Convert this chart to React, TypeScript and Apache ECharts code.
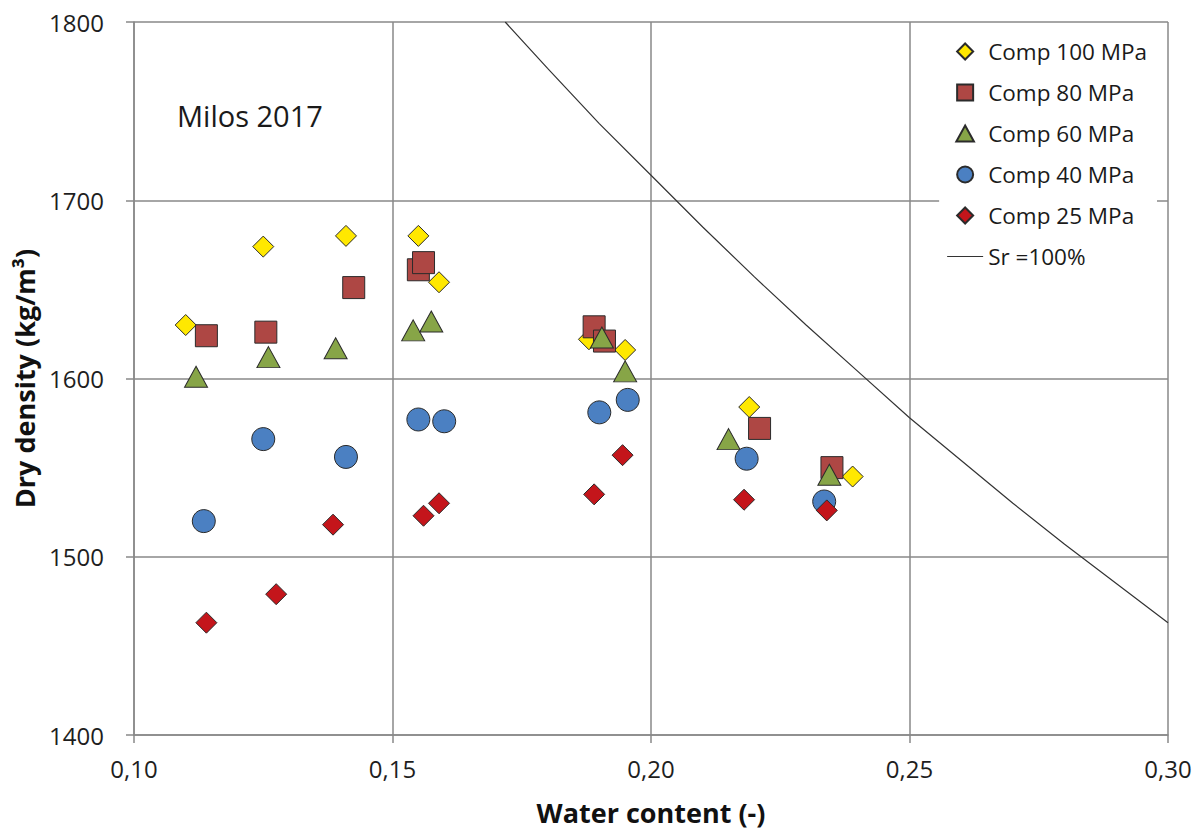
import { useEffect, useRef } from "react";
import * as echarts from "echarts";

const comp100X = [0.110, 0.125, 0.141, 0.155, 0.159, 0.188, 0.195, 0.219, 0.239];
const comp100Y = [1630, 1674, 1680, 1680, 1654, 1622, 1616, 1584, 1545];
const comp80X = [0.114, 0.1255, 0.1425, 0.155, 0.156, 0.189, 0.191, 0.221, 0.235];
const comp80Y = [1624, 1626, 1651, 1661, 1665, 1629, 1621, 1572, 1550];
const comp60X = [0.112, 0.126, 0.139, 0.154, 0.1575, 0.1905, 0.195, 0.215, 0.2345];
const comp60Y = [1601, 1612, 1617, 1627, 1632, 1623, 1604, 1566, 1546];
const comp40X = [0.1135, 0.125, 0.141, 0.155, 0.160, 0.190, 0.1955, 0.2185, 0.2335];
const comp40Y = [1520, 1566, 1556, 1577, 1576, 1581, 1588, 1555, 1531];
const comp25X = [0.114, 0.1275, 0.1385, 0.156, 0.159, 0.189, 0.1945, 0.218, 0.234];
const comp25Y = [1463, 1479, 1518, 1523, 1530, 1535, 1557, 1532, 1526];

const srX = [0.1718, 0.18, 0.19, 0.20, 0.21, 0.22, 0.23, 0.24, 0.25, 0.26, 0.27, 0.28, 0.29, 0.30];
const srY = [1800, 1774, 1743, 1714, 1685, 1657, 1630, 1604, 1578, 1554, 1530, 1507, 1485, 1463];

const seriesNames = ["Comp 100 MPa", "Comp 80 MPa", "Comp 60 MPa", "Comp 40 MPa", "Comp 25 MPa", "Sr =100%"];

const FONT = "'Open Sans', sans-serif";

const ICON_DIAMOND = "path://M0,-1L1,0L0,1L-1,0Z";
const ICON_RECT = "path://M-1,-1L1,-1L1,1L-1,1Z";
const ICON_TRI = "path://M0,-1L1.1,1L-1.1,1Z";
const ICON_CIRCLE = "path://M0,-1A1,1 0 1 1 0,1A1,1 0 1 1 0,-1Z";
const ICON_LINE = "path://M0,0L36,0L36,1.2L0,1.2Z";

function pairs(xs: number[], ys: number[]) {
  return xs.map((x, i) => [x, ys[i]]);
}

export default function App() {
  const ref = useRef<HTMLDivElement>(null);
  useEffect(() => {
    document.body.style.margin = "0";
    const chart = echarts.init(ref.current!, null, { renderer: "svg" });
    const border = { borderColor: "#2b2b2b", borderWidth: 1, opacity: 1 };
    chart.setOption({
      animation: false,
      backgroundColor: "#fff",
      textStyle: { fontFamily: FONT },
      grid: { left: 134, right: 32, top: 22, bottom: 96, containLabel: false },
      legend: {
        orient: "vertical",
        right: 43,
        top: 30,
        padding: [10, 10, 10, 8],
        backgroundColor: "#fff",
        itemWidth: 36,
        itemHeight: 16,
        itemGap: 18,
        symbolKeepAspect: true,
        data: [
          { name: seriesNames[0], icon: ICON_DIAMOND },
          { name: seriesNames[1], icon: ICON_RECT },
          { name: seriesNames[2], icon: ICON_TRI },
          { name: seriesNames[3], icon: ICON_CIRCLE },
          { name: seriesNames[4], icon: ICON_DIAMOND },
          { name: seriesNames[5], icon: ICON_LINE },
        ],
        textStyle: { fontFamily: FONT, fontSize: 22.5, color: "#1a1a1a" },
      },
      xAxis: {
        type: "value",
        min: 0.1,
        max: 0.3,
        interval: 0.05,
        name: "Water content (-)",
        nameLocation: "middle",
        nameGap: 64,
        nameTextStyle: { fontFamily: FONT, fontSize: 27, fontWeight: "bold", color: "#111" },
        axisLine: { show: true, lineStyle: { color: "#898989", width: 1.5 } },
        axisTick: { show: true, length: 8, lineStyle: { color: "#898989", width: 1.5 } },
        axisLabel: {
          margin: 21,
          fontFamily: FONT,
          fontSize: 24,
          color: "#1e1e1e",
          formatter: (v: number) => v.toFixed(2).replace(".", ","),
        },
        splitLine: { show: true, lineStyle: { color: "#898989", width: 1.5 } },
      },
      yAxis: {
        type: "value",
        min: 1400,
        max: 1800,
        interval: 100,
        name: "Dry density (kg/m³)",
        nameLocation: "middle",
        nameGap: 94,
        nameTextStyle: { fontFamily: FONT, fontSize: 27, fontWeight: "bold", color: "#111" },
        axisLine: { show: true, lineStyle: { color: "#898989", width: 1.5 } },
        axisTick: { show: true, length: 8, lineStyle: { color: "#898989", width: 1.5 } },
        axisLabel: {
          margin: 30,
          fontFamily: FONT,
          fontSize: 24,
          color: "#1e1e1e",
          formatter: (v: number) => String(v),
        },
        splitLine: { show: true, lineStyle: { color: "#898989", width: 1.5 } },
      },
      graphic: [
        {
          type: "text",
          left: 177,
          top: 101,
          style: { text: "Milos 2017", fontFamily: FONT, fontSize: 29, fill: "#1a1a1a" },
        },
      ],
      series: [
        {
          name: seriesNames[0],
          type: "scatter",
          symbol: "diamond",
          symbolSize: 21,
          symbolKeepAspect: true,
          itemStyle: { color: "#FFE800", ...border },
          data: pairs(comp100X, comp100Y),
        },
        {
          name: seriesNames[1],
          type: "scatter",
          symbol: "rect",
          symbolSize: 22,
          symbolKeepAspect: true,
          itemStyle: { color: "#AE4744", ...border },
          data: pairs(comp80X, comp80Y),
        },
        {
          name: seriesNames[2],
          type: "scatter",
          symbol: "triangle",
          symbolSize: [23, 21],
          symbolKeepAspect: true,
          itemStyle: { color: "#87A547", ...border },
          data: pairs(comp60X, comp60Y),
        },
        {
          name: seriesNames[3],
          type: "scatter",
          symbol: "circle",
          symbolSize: 23,
          symbolKeepAspect: true,
          itemStyle: { color: "#4B80C2", ...border },
          data: pairs(comp40X, comp40Y),
        },
        {
          name: seriesNames[4],
          type: "scatter",
          symbol: "diamond",
          symbolSize: 21,
          symbolKeepAspect: true,
          itemStyle: { color: "#C4151B", ...border },
          data: pairs(comp25X, comp25Y),
        },
        {
          name: seriesNames[5],
          type: "line",
          symbol: "none",
          showSymbol: false,
          smooth: false,
          lineStyle: { color: "#333", width: 1.2 },
          itemStyle: { color: "#333" },
          data: pairs(srX, srY),
        },
      ],
    });
    return () => chart.dispose();
  }, []);
  return <div ref={ref} style={{ width: 1200, height: 831 }} />;
}
